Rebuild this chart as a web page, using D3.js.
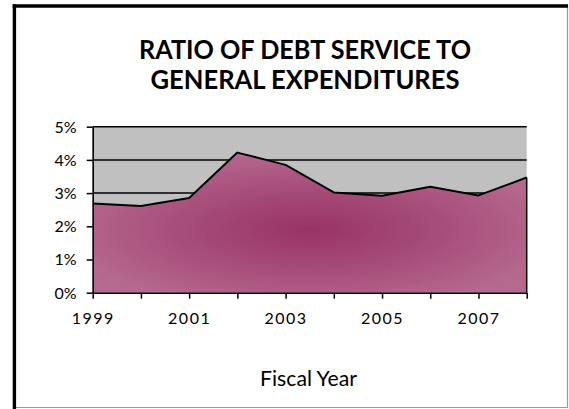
<!DOCTYPE html>
<html><head><meta charset="utf-8">
<script src="https://cdn.jsdelivr.net/npm/d3@7"></script>
<style>body{margin:0;background:#fff} svg{display:block}</style>
</head><body><svg id="c" width="569" height="409"></svg>
<script>
const years = [1999,2000,2001,2002,2003,2004,2005,2006,2007,2008];
const ratios = [2.69,2.61,2.85,4.22,3.85,3.02,2.92,3.19,2.93,3.47];
const yTicks = [0,1,2,3,4,5];
const xLabelYears = [1999,2001,2003,2005,2007];
const titleLines = ["RATIO OF DEBT SERVICE TO","GENERAL EXPENDITURES"];
const xTitle = "Fiscal Year";

const svg = d3.select("#c");
const font = "Lato, 'Open Sans', sans-serif";

// frame
svg.append("line").attr("x1",567.5).attr("x2",567.5).attr("y1",4).attr("y2",408).attr("stroke","#9a9a9a").attr("stroke-width",1.2);
svg.append("line").attr("x1",13).attr("x2",568).attr("y1",407.5).attr("y2",407.5).attr("stroke","#9a9a9a").attr("stroke-width",1.2);
svg.append("line").attr("x1",12.7).attr("x2",568).attr("y1",6).attr("y2",6).attr("stroke","#000").attr("stroke-width",3.5);
svg.append("line").attr("x1",14.4).attr("x2",14.4).attr("y1",4.3).attr("y2",409).attr("stroke","#000").attr("stroke-width",3.4);

// title
titleLines.forEach((t,i)=>{
  svg.append("text").attr("x",305).attr("y",59+i*30).attr("text-anchor","middle")
    .attr("font-family",font).attr("font-weight","bold").attr("font-size",26)
    .attr("textLength", i===0?332:309).attr("lengthAdjust","spacingAndGlyphs")
    .text(t);
});

const x = d3.scaleLinear().domain([years[0], years[years.length-1]]).range([92.7,526.7]);
const y = d3.scaleLinear().domain([0,5]).range([292.7,126.7]);

const defs = svg.append("defs");
const grad = defs.append("radialGradient").attr("id","g").attr("cx",0.5).attr("cy",0.55).attr("r",0.58);
grad.append("stop").attr("offset",0).attr("stop-color","#993366");
grad.append("stop").attr("offset",0.45).attr("stop-color","#a44a77");
grad.append("stop").attr("offset",1).attr("stop-color","#b6698f");

// plot background
svg.append("rect").attr("x",x.range()[0]).attr("y",y(5)).attr("width",x.range()[1]-x.range()[0]).attr("height",y(0)-y(5)).attr("fill","#c0c0c0");

// gridlines
svg.append("g").selectAll("line").data(yTicks.filter(d=>d>0)).join("line")
  .attr("x1",x.range()[0]).attr("x2",x.range()[1]).attr("y1",d=>y(d)).attr("y2",d=>y(d))
  .attr("stroke","#000").attr("stroke-width",1.5);

const data = years.map((yr,i)=>({yr, v: ratios[i]}));
svg.append("path").datum(data)
  .attr("d", d3.area().x(d=>x(d.yr)).y0(y(0)).y1(d=>y(d.v)))
  .attr("fill","url(#g)");
svg.append("path").datum(data)
  .attr("d", d3.line().x(d=>x(d.yr)).y(d=>y(d.v)))
  .attr("fill","none").attr("stroke","#000").attr("stroke-width",2).attr("stroke-linejoin","round");
// right edge of area
const last = data[data.length-1];
svg.append("line").attr("x1",x(last.yr)).attr("x2",x(last.yr)).attr("y1",y(last.v)).attr("y2",y(0))
  .attr("stroke","#000").attr("stroke-width",1.5);

// y axis
const ya = svg.append("g").attr("transform",`translate(${x.range()[0]},0)`)
  .call(d3.axisLeft(y).tickValues(yTicks).tickSize(6).tickSizeOuter(0).tickPadding(10).tickFormat(d=>d+"%"));
ya.select(".domain").attr("stroke","#000").attr("stroke-width",1.6);
ya.selectAll(".tick line").attr("stroke","#000").attr("stroke-width",1.5);
ya.selectAll(".tick text").attr("font-family",font).attr("font-size",16).attr("fill","#000").attr("dy","0.34em");

// x axis
const xa = svg.append("g").attr("transform",`translate(0,${y(0)})`)
  .call(d3.axisBottom(x).tickValues(years).tickSize(6).tickSizeOuter(0).tickPadding(14)
    .tickFormat(d=>xLabelYears.includes(d)?String(d):""));
xa.select(".domain").attr("stroke","#000").attr("stroke-width",1.6);
xa.selectAll(".tick line").attr("stroke","#000").attr("stroke-width",1.5);
xa.selectAll(".tick text").attr("font-family",font).attr("font-size",16).attr("fill","#000").attr("letter-spacing","1.5px");

svg.append("text").attr("x",308.5).attr("y",386).attr("text-anchor","middle")
  .attr("font-family",font).attr("font-size",22)
  .attr("textLength",97).attr("lengthAdjust","spacingAndGlyphs").text(xTitle);
</script></body></html>
